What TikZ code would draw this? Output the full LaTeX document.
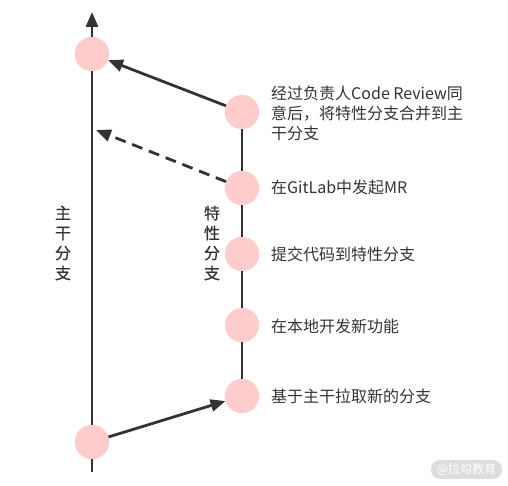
\documentclass[tikz,border=0pt]{standalone}
\usepackage{fontspec}
\setmainfont{Noto Sans CJK SC}
\newfontfamily\semib[FakeBold=0.6]{Noto Sans CJK SC}
\usetikzlibrary{arrows.meta}
\definecolor{ink}{HTML}{333333}
\definecolor{dot}{HTML}{FFCCCC}
\definecolor{wm}{HTML}{DDDDDD}
\begin{document}
\begin{tikzpicture}[x=1pt,y=-1pt,
  commit/.style={circle,fill=dot,minimum size=34pt,inner sep=0pt},
  line/.style={draw=ink,line width=2.8pt},
  tip/.style={-{Triangle[length=15pt,width=12pt]}},
  note/.style={anchor=west,text=ink,font=\fontsize{16}{20}\selectfont,align=left,inner sep=0pt},
  vlabel/.style={text=ink,font=\fontsize{16}{20}\selectfont\semib,align=center,inner sep=0pt}]
\useasboundingbox (0,0) rectangle (508,486);
\coordinate (mbot) at (92,472);
\coordinate (mtop) at (92,12);
\coordinate (dend) at (96,130);
\node[commit] (t) at (92,54) {};
\node[commit] (b) at (92,442) {};
\node[commit] (c1) at (242,112) {};
\node[commit] (c2) at (242,188) {};
\node[commit] (c3) at (242,254) {};
\node[commit] (c4) at (242,325) {};
\node[commit] (c5) at (242,396) {};
\draw[line,tip] (mbot) -- (mtop);
\draw[line] (c1.center) -- (c5.center);
\foreach \n in {t,b,c1,c2,c3,c4,c5}
  \node[commit] at (\n) {};
\draw[line,tip] (b) -- (c5);
\draw[line,tip] (c1) -- (t);
\draw[line,tip,dash pattern=on 11pt off 7pt] (c2) -- (dend);
\node[note] (n1) at (271,113) {经过负责人Code Review同\\意后，将特性分支合并到主\\干分支};
\node[note] (n2) at (271,187) {在GitLab中发起MR};
\node[note] (n3) at (271,254) {提交代码到特性分支};
\node[note] (n4) at (271,326) {在本地开发新功能};
\node[note] (n5) at (271,396) {基于主干拉取新的分支};
\node[vlabel] (lm) at (63,243) {主\\干\\分\\支};
\node[vlabel] (lf) at (212,243) {特\\性\\分\\支};
\node[fill=wm,rounded corners=9pt,minimum width=71pt,minimum height=19pt,inner sep=0pt,text=white,font=\fontsize{12}{13}\selectfont] (w) at (466.5,469.5) {@拉勾教育};
\end{tikzpicture}
\end{document}
